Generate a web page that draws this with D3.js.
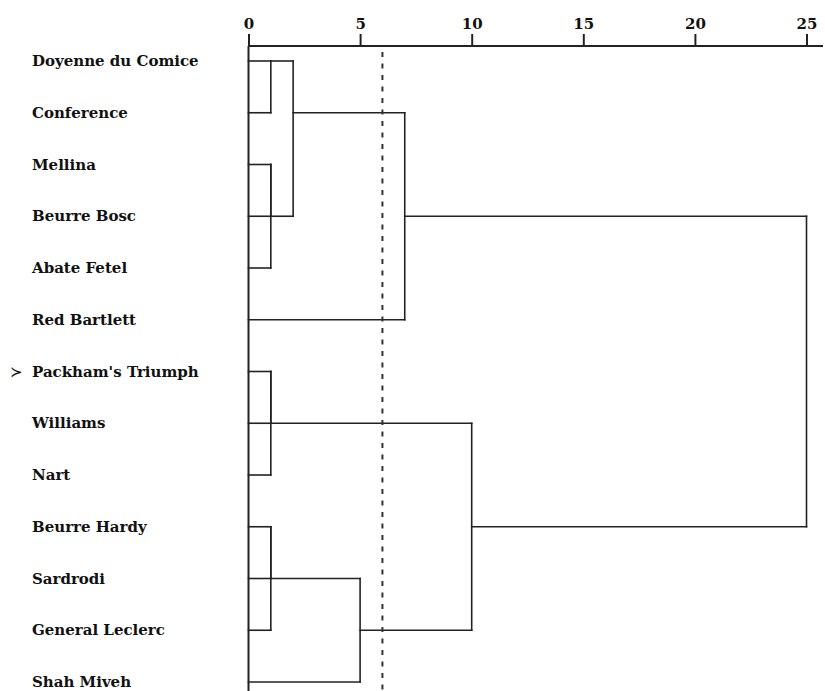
<!DOCTYPE html>
<html>
<head>
<meta charset="utf-8">
<script src="https://cdn.jsdelivr.net/npm/d3@7"></script>
<style>
  body { margin: 0; background: #fff; }
  text { font-family: "DejaVu Serif", serif; font-weight: bold; fill: #111; }
</style>
</head>
<body>
<div id="chart"></div>
<script>
// leaves, top to bottom
const leaves = ["Doyenne du Comice", "Conference", "Mellina", "Beurre Bosc", "Abate Fetel",
  "Red Bartlett", "Packham's Triumph", "Williams", "Nart", "Beurre Hardy", "Sardrodi",
  "General Leclerc", "Shah Miveh"]

// merge steps: [node a, node b, rescaled distance]; new node ids start at leaves.length
const merges = [
  [0, 1, 1],
  [2, 3, 1],
  [14, 4, 1],
  [13, 15, 2],
  [16, 5, 7],
  [6, 7, 1],
  [18, 8, 1],
  [9, 10, 1],
  [20, 11, 1],
  [21, 12, 5],
  [19, 22, 10],
  [17, 23, 25]
]

const ticks = [0, 5, 10, 15, 20, 25]
const cutLine = 6
const markedLeaf = 6

const width = 825, height = 691

const x = d3.scaleLinear().domain([0, 25]).range([248.5, 806.5])
const y = d3.scaleLinear().domain([0, leaves.length - 1]).range([61, 682])

const svg = d3.select("#chart").append("svg")
  .attr("width", width)
  .attr("height", height)

// top axis
const axis = svg.append("g")
  .attr("transform", "translate(0,46)")
  .call(d3.axisTop(x).tickValues(ticks).tickSize(12).tickSizeOuter(0).tickPadding(5))
axis.select(".domain").attr("d", `M${x(0)},0H${width - 2}`).attr("stroke", "#222").attr("stroke-width", 2)
axis.selectAll(".tick line").attr("stroke", "#222").attr("stroke-width", 2)
axis.selectAll(".tick text")
  .style("font-family", "DejaVu Serif, serif")
  .style("font-weight", "bold")
  .style("font-size", "15px")
  .attr("fill", "#111")

// left vertical line (distance 0)
svg.append("line")
  .attr("x1", x(0)).attr("x2", x(0))
  .attr("y1", 46).attr("y2", height)
  .attr("stroke", "#222").attr("stroke-width", 2)

// dendrogram links
let nodes = leaves.map((d, i) => ({ h: 0, r: i }))
let segs = []
merges.forEach(m => {
  let a = nodes[m[0]], b = nodes[m[1]], h = m[2]
  segs.push([a.h, a.r, h, a.r])
  segs.push([b.h, b.r, h, b.r])
  segs.push([h, a.r, h, b.r])
  nodes.push({ h: h, r: Math.floor((a.r + b.r) / 2) })
})

svg.append("g").selectAll("line")
  .data(segs.filter(s => !(s[0] === s[2] && s[1] === s[3])))
  .enter().append("line")
  .attr("x1", d => x(d[0]))
  .attr("y1", d => y(d[1]))
  .attr("x2", d => x(d[2]))
  .attr("y2", d => y(d[3]))
  .attr("stroke", "#222")
  .attr("stroke-width", 1.6)
  .attr("stroke-linecap", "square")

// cut line
svg.append("line")
  .attr("x1", x(cutLine)).attr("x2", x(cutLine))
  .attr("y1", 52).attr("y2", height)
  .attr("stroke", "#333").attr("stroke-width", 2)
  .attr("stroke-dasharray", "5,6.5")

// leaf labels
svg.append("g").selectAll("text")
  .data(leaves)
  .enter().append("text")
  .attr("x", 32)
  .attr("y", (d, i) => y(i) + 5)
  .style("font-size", "15px")
  .text(d => d)

svg.append("text")
  .attr("x", 10)
  .attr("y", y(markedLeaf) + 5)
  .style("font-family", "DejaVu Sans, sans-serif")
  .style("font-weight", "normal")
  .style("font-size", "15px")
  .text("≻")
</script>
</body>
</html>
